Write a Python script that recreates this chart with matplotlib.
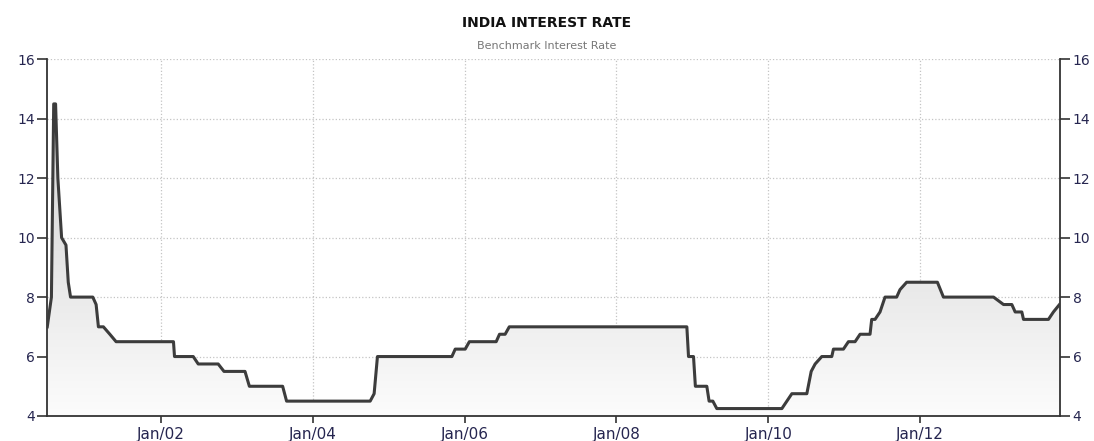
import numpy as np
import matplotlib
matplotlib.use("Agg")
import matplotlib.pyplot as plt
import matplotlib.dates as mdates
from matplotlib.colors import LinearSegmentedColormap
import pandas as pd

# data (breakpoints of the benchmark rate)
dates = [
    "2000-07-04", "2000-07-24", "2000-08-04", "2000-08-13", "2000-08-24", "2000-09-11",
    "2000-10-02", "2000-10-13", "2000-10-24", "2001-02-08", "2001-02-24", "2001-03-07",
    "2001-03-31", "2001-05-01", "2001-05-31", "2002-03-03", "2002-03-08", "2002-06-06",
    "2002-06-30", "2002-10-04", "2002-11-01", "2003-02-10", "2003-03-03", "2003-08-10",
    "2003-08-29", "2004-10-04", "2004-10-23", "2004-11-08", "2005-11-01", "2005-11-17",
    "2006-01-04", "2006-01-24", "2006-06-02", "2006-06-18", "2006-07-15", "2006-08-04",
    "2008-12-05", "2008-12-13", "2009-01-06", "2009-01-15", "2009-03-11", "2009-03-22",
    "2009-04-09", "2009-04-28", "2010-03-07", "2010-03-31", "2010-04-24", "2010-07-05",
    "2010-07-26", "2010-08-14", "2010-09-15", "2010-11-02", "2010-11-10", "2010-12-28",
    "2011-01-21", "2011-02-22", "2011-03-18", "2011-05-05", "2011-05-13", "2011-05-29",
    "2011-06-22", "2011-07-16", "2011-09-10", "2011-09-26", "2011-10-28", "2012-03-24",
    "2012-04-22", "2012-12-19", "2013-02-05", "2013-03-17", "2013-04-02", "2013-05-04",
    "2013-05-12", "2013-09-09", "2013-10-03", "2013-11-01",
]
rates = [
    7.0, 8.0, 14.5, 14.5, 12.0, 10.0,
    9.75, 8.5, 8.0, 8.0, 7.75, 7.0,
    7.0, 6.75, 6.5, 6.5, 6.0, 6.0,
    5.75, 5.75, 5.5, 5.5, 5.0, 5.0,
    4.5, 4.5, 4.75, 6.0, 6.0, 6.25,
    6.25, 6.5, 6.5, 6.75, 6.75, 7.0,
    7.0, 6.0, 6.0, 5.0, 5.0, 4.5,
    4.5, 4.25, 4.25, 4.5, 4.75, 4.75,
    5.5, 5.75, 6.0, 6.0, 6.25, 6.25,
    6.5, 6.5, 6.75, 6.75, 7.25, 7.25,
    7.5, 8.0, 8.0, 8.25, 8.5, 8.5,
    8.0, 8.0, 7.75, 7.75, 7.5, 7.5,
    7.25, 7.25, 7.5, 7.75,
]
tick_dates = ["2002-01-01", "2004-01-01", "2006-01-01", "2008-01-01", "2010-01-01", "2012-01-01"]
tick_labels = ["Jan/02", "Jan/04", "Jan/06", "Jan/08", "Jan/10", "Jan/12"]
y_ticks = [4, 6, 8, 10, 12, 14, 16]

x = mdates.date2num(pd.to_datetime(dates))
y = np.array(rates)
x0 = mdates.date2num(pd.Timestamp("2000-07-04"))
x1 = mdates.date2num(pd.Timestamp("2013-11-04"))

fig = plt.figure(figsize=(10.94, 4.41), dpi=100)
ax = fig.add_axes([0.0432, 0.0567, 0.9258, 0.8088])

# gradient fill under the line
poly = ax.fill_between(x, y, 4, facecolor="none", edgecolor="none")
cmap = LinearSegmentedColormap.from_list("g", ["#fcfcfc", "#e2e2e2", "#d6d6d6"])
grad = np.linspace(0, 1, 256).reshape(-1, 1)
im = ax.imshow(grad, extent=[x0, x1, 4, 16], origin="lower", aspect="auto",
               cmap=cmap, zorder=1)
im.set_clip_path(poly.get_paths()[0], transform=ax.transData)

ax.plot(x, y, color="#3c3c3c", lw=2.2, zorder=3, solid_joinstyle="round")

ax.set_xlim(x0, x1)
ax.set_ylim(4, 16)
ax.set_yticks(y_ticks)
ax.set_xticks(mdates.date2num(pd.to_datetime(tick_dates)))
ax.set_xticklabels(tick_labels)

ax.grid(True, linestyle=":", color="#c4c4c4", lw=0.9, zorder=0)
ax.set_axisbelow(True)

label_color = "#262650"
ax.tick_params(axis="y", direction="out", length=7, width=1.2, color="#333333",
               labelsize=10, labelcolor=label_color, left=True, right=True,
               labelleft=True, labelright=True, pad=2)
ax.tick_params(axis="x", direction="out", length=5, width=1.2, color="#333333",
               labelsize=11, labelcolor=label_color, pad=3)

ax.spines["top"].set_visible(False)
for s in ["left", "right", "bottom"]:
    ax.spines[s].set_color("#333333")
    ax.spines[s].set_linewidth(1.3)

fig.text(0.5, 0.948, "INDIA INTEREST RATE", ha="center", va="center",
         fontsize=10, fontweight="bold", color="#111111")
fig.text(0.5, 0.895, "Benchmark Interest Rate", ha="center", va="center",
         fontsize=8, color="#777777")

fig.savefig("out.png", dpi=100)
